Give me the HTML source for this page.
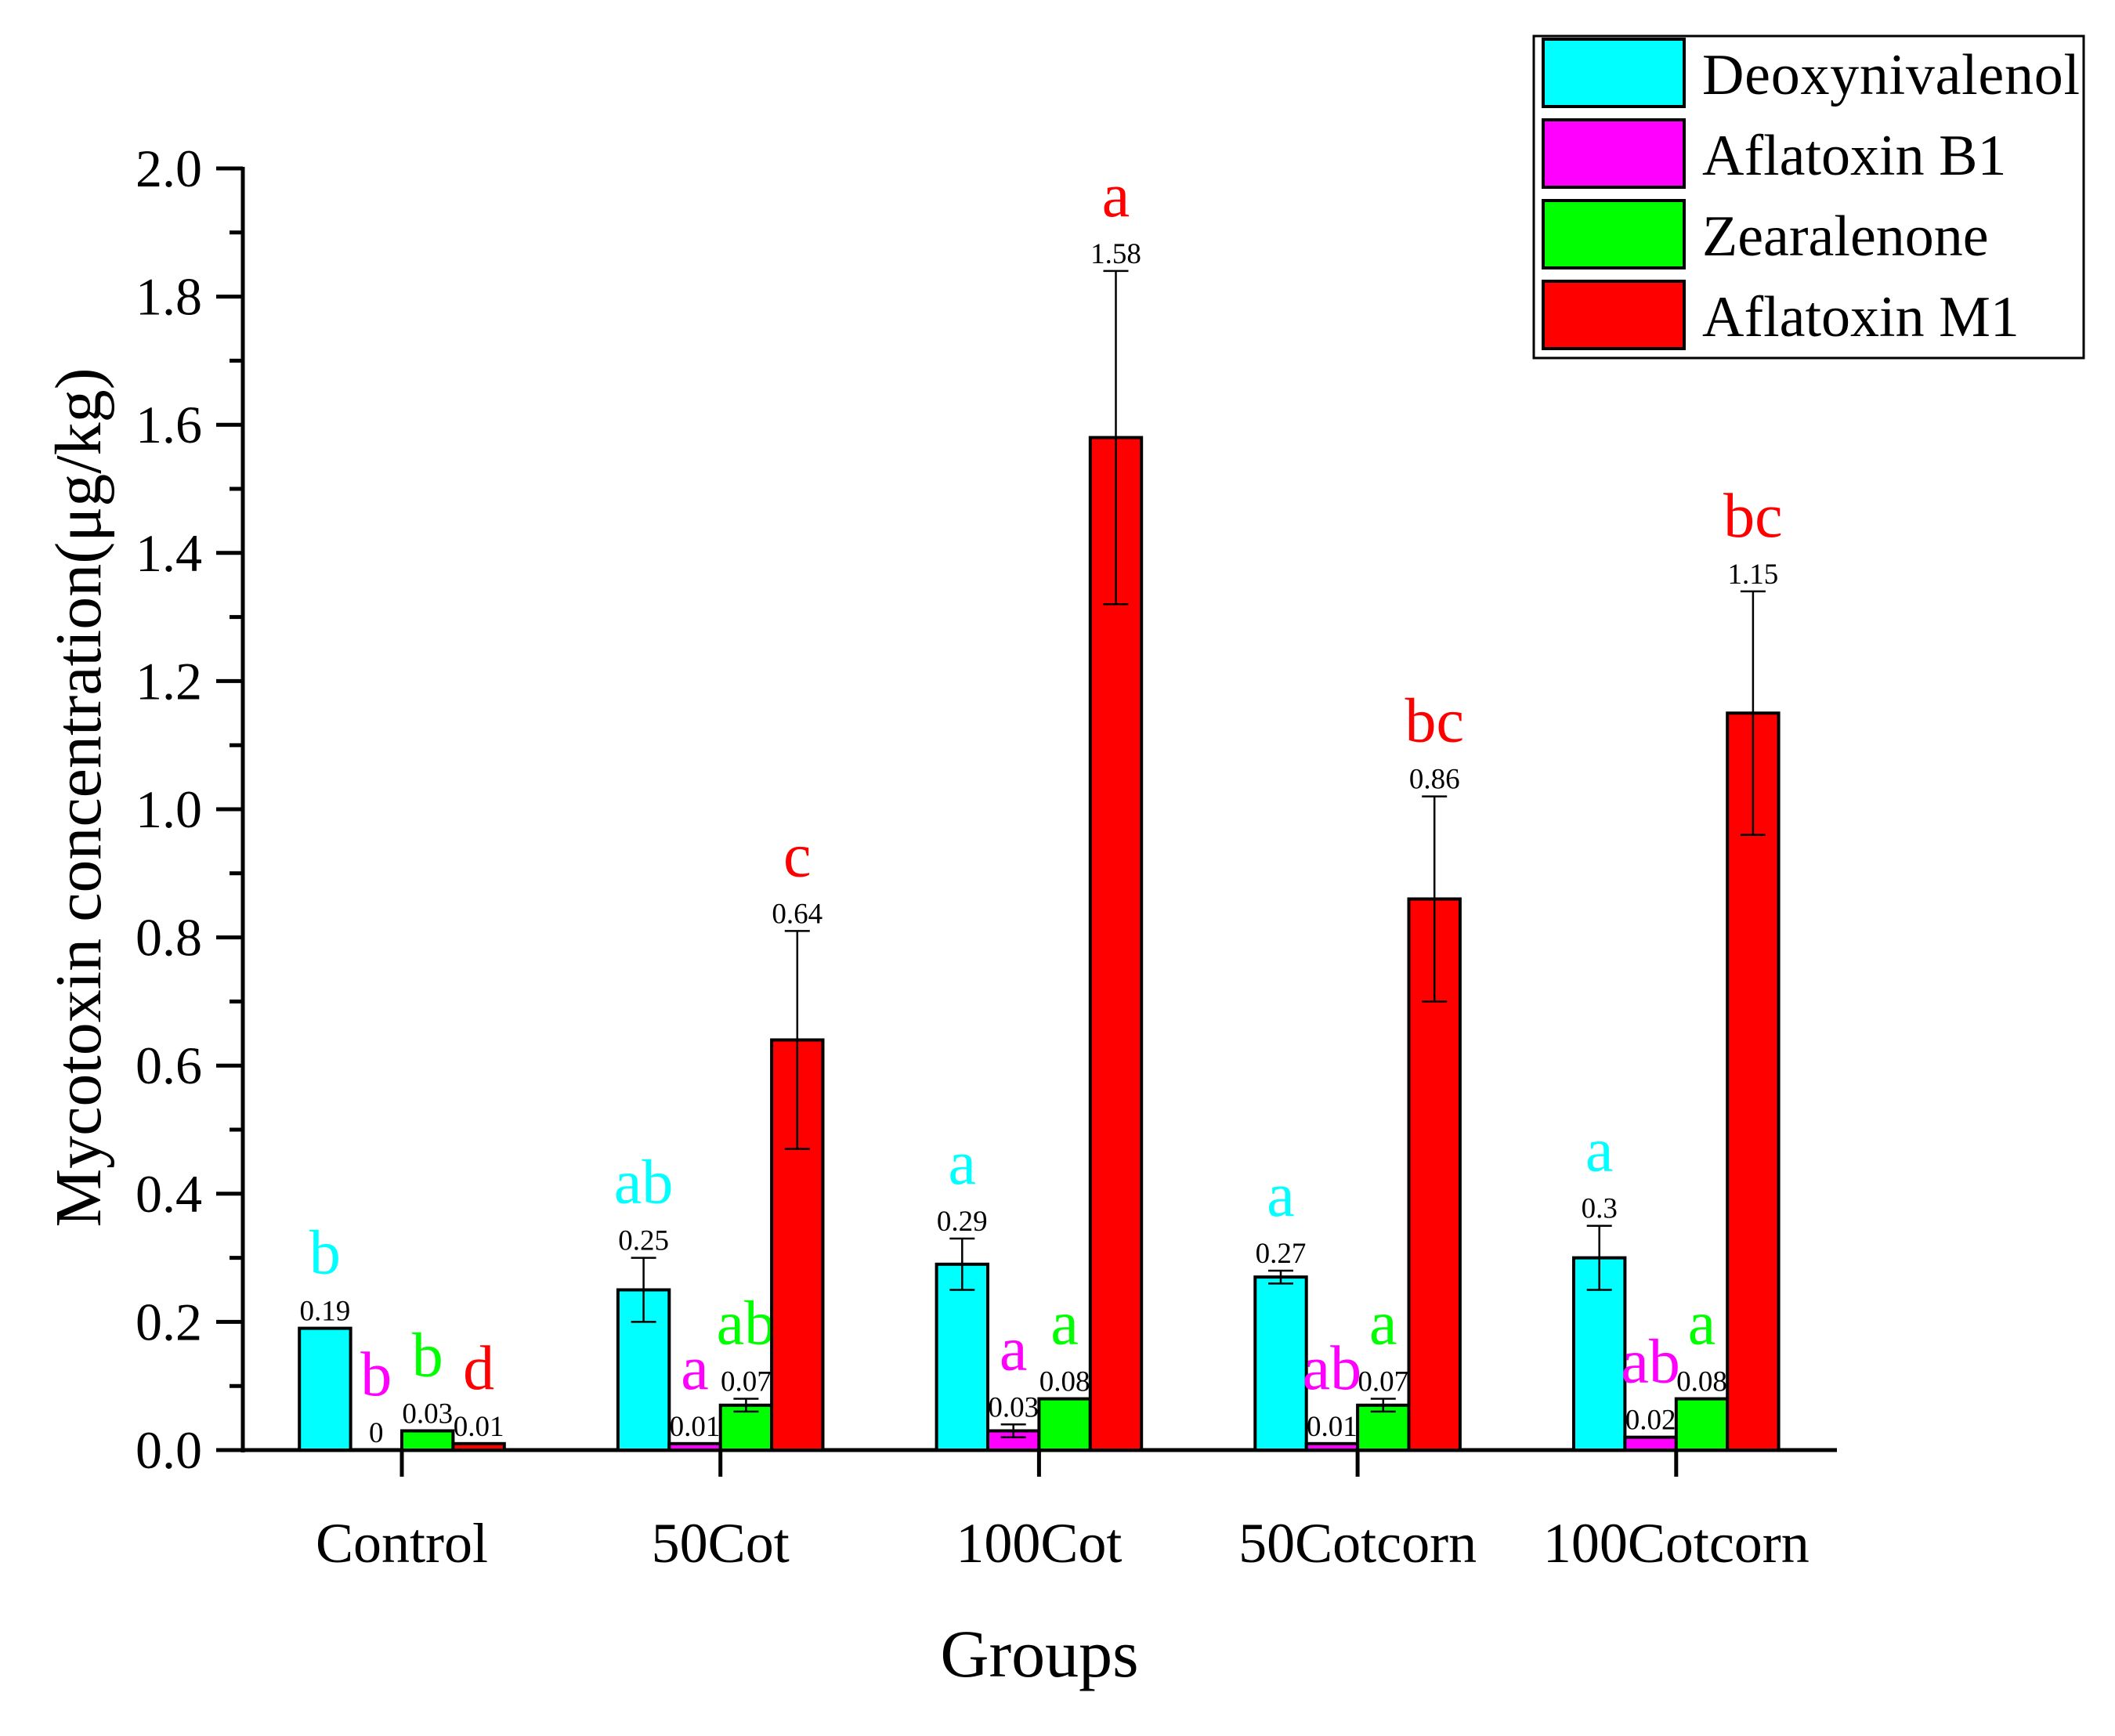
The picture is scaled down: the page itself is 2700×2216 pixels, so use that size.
<!DOCTYPE html>
<html><head><meta charset="utf-8"><style>
html,body{margin:0;padding:0;background:#fff;}
svg{display:block;font-family:"Liberation Serif",serif;}
</style></head><body>
<svg id="chart" width="2700" height="2216" viewBox="0 0 2700 2216" xmlns="http://www.w3.org/2000/svg"></svg>
<script>
const categories = ["Control","50Cot","100Cot","50Cotcorn","100Cotcorn"];
const seriesNames = ["Deoxynivalenol","Aflatoxin B1","Zearalenone","Aflatoxin M1"];
const deoxyValues = [0.19,0.25,0.29,0.27,0.30];
const deoxyErrors = [0,0.05,0.04,0.01,0.05];
const afb1Values = [0,0.01,0.03,0.01,0.02];
const afb1Errors = [0,0,0.01,0,0];
const zeaValues = [0.03,0.07,0.08,0.07,0.08];
const zeaErrors = [0,0.01,0,0.01,0];
const afm1Values = [0.01,0.64,1.58,0.86,1.15];
const afm1Errors = [0,0.17,0.26,0.16,0.19];
const valueLabels = [["0.19","0.25","0.29","0.27","0.3"],["0","0.01","0.03","0.01","0.02"],["0.03","0.07","0.08","0.07","0.08"],["0.01","0.64","1.58","0.86","1.15"]];
const letters = [["b","ab","a","a","a"],["b","a","a","ab","ab"],["b","ab","a","a","a"],["d","c","a","bc","bc"]];
const yTicks = [0,0.2,0.4,0.6,0.8,1.0,1.2,1.4,1.6,1.8,2.0];

const colors = ["#00ffff","#ff00ff","#00ff00","#ff0000"];
const allValues = [deoxyValues,afb1Values,zeaValues,afm1Values];
const allErrors = [deoxyErrors,afb1Errors,zeaErrors,afm1Errors];
const svg = document.getElementById('chart');
const NS = "http://www.w3.org/2000/svg";
const X0 = 310, X1 = 2345, Y0 = 1851, Y1 = 215, YMAX = 2.0;
const groupStart = 513, groupStep = 406.7, barW = 65.4;
function yScale(v){ return Y0 - (v/YMAX)*(Y0-Y1); }
function xCenter(i){ return groupStart + i*groupStep; }
function mk(tag, attrs, parent){ const e=document.createElementNS(NS,tag); for(const k in attrs) e.setAttribute(k,attrs[k]); (parent||svg).appendChild(e); return e; }

const axes = mk('g',{});


mk('line',{x1:X0,y1:Y1-2,x2:X0,y2:Y0+3,stroke:'#000','stroke-width':5},axes);
mk('line',{x1:X0-34,y1:Y0,x2:X1,y2:Y0,stroke:'#000','stroke-width':5},axes);
for(let i=0;i<yTicks.length;i++){
  const y=yScale(yTicks[i]);
  mk('line',{x1:X0-34,y1:y,x2:X0,y2:y,stroke:'#000','stroke-width':5},axes);
  if(i<yTicks.length-1){ const ym=yScale((yTicks[i]+yTicks[i+1])/2); mk('line',{x1:X0-17,y1:ym,x2:X0,y2:ym,stroke:'#000','stroke-width':5},axes); }
  const t=mk('text',{x:X0-52,y:y+23,'text-anchor':'end','font-size':68},axes);
  
  
  t.textContent=yTicks[i].toFixed(1);
}
for(let i=0;i<categories.length;i++){
  const x=xCenter(i);
  mk('line',{x1:x,y1:Y0,x2:x,y2:Y0+34,stroke:'#000','stroke-width':5},axes);
  const t=mk('text',{x:x,y:1994,'text-anchor':'middle','font-size':72},axes);
  
  
  t.textContent=categories[i];
}
const yt=mk('text',{x:0,y:0,'text-anchor':'middle','font-size':84,transform:'translate(128,1018) rotate(-90)'});


yt.textContent='Mycotoxin concentration(\u03bcg/kg)';
const xt=mk('text',{x:1327,y:2140,'text-anchor':'middle','font-size':86});


xt.textContent='Groups';

for(let s=0;s<4;s++){
  const g=mk('g',{});
  
  
  for(let i=0;i<categories.length;i++){
    const v=allValues[s][i], e=allErrors[s][i];
    const xl=xCenter(i)-2*barW+s*barW, xc=xl+barW/2;
    const yt=yScale(v);
    if(v>0){
      const r=mk('rect',{x:xl,y:yt,width:barW,height:Y0-yt,fill:colors[s],stroke:'#000','stroke-width':4},g);
      
      
    }
    let top=yt;
    if(e>0){
      const ya=yScale(v+e), yb=yScale(v-e);
      mk('line',{x1:xc,y1:ya,x2:xc,y2:yb,stroke:'#000','stroke-width':2.5},g);
      mk('line',{x1:xc-16,y1:ya,x2:xc+16,y2:ya,stroke:'#000','stroke-width':2.5},g);
      mk('line',{x1:xc-16,y1:yb,x2:xc+16,y2:yb,stroke:'#000','stroke-width':2.5},g);
      top=ya;
    }
    const vl=mk('text',{x:xc,y:top-10,'text-anchor':'middle','font-size':37},g);
    
    
    vl.textContent=valueLabels[s][i];
    const lt=mk('text',{x:xc,y:top-70,'text-anchor':'middle','font-size':80,fill:colors[s]},g);
    
    
    lt.textContent=letters[s][i];
  }
}

const lg=mk('g',{});


mk('rect',{x:1958,y:46,width:702,height:411,fill:'#fff',stroke:'#000','stroke-width':3},lg);
for(let s=0;s<4;s++){
  const y=50+s*103;
  const e=mk('g',{},lg);
  
  
  mk('rect',{x:1970,y:y,width:180,height:86,fill:colors[s],stroke:'#000','stroke-width':4},e);
  const t=mk('text',{x:2173,y:y+70,'font-size':74},e);
  t.textContent=seriesNames[s];
  if(s===0) t.setAttribute('textLength','482');
}
</script>
</body></html>
